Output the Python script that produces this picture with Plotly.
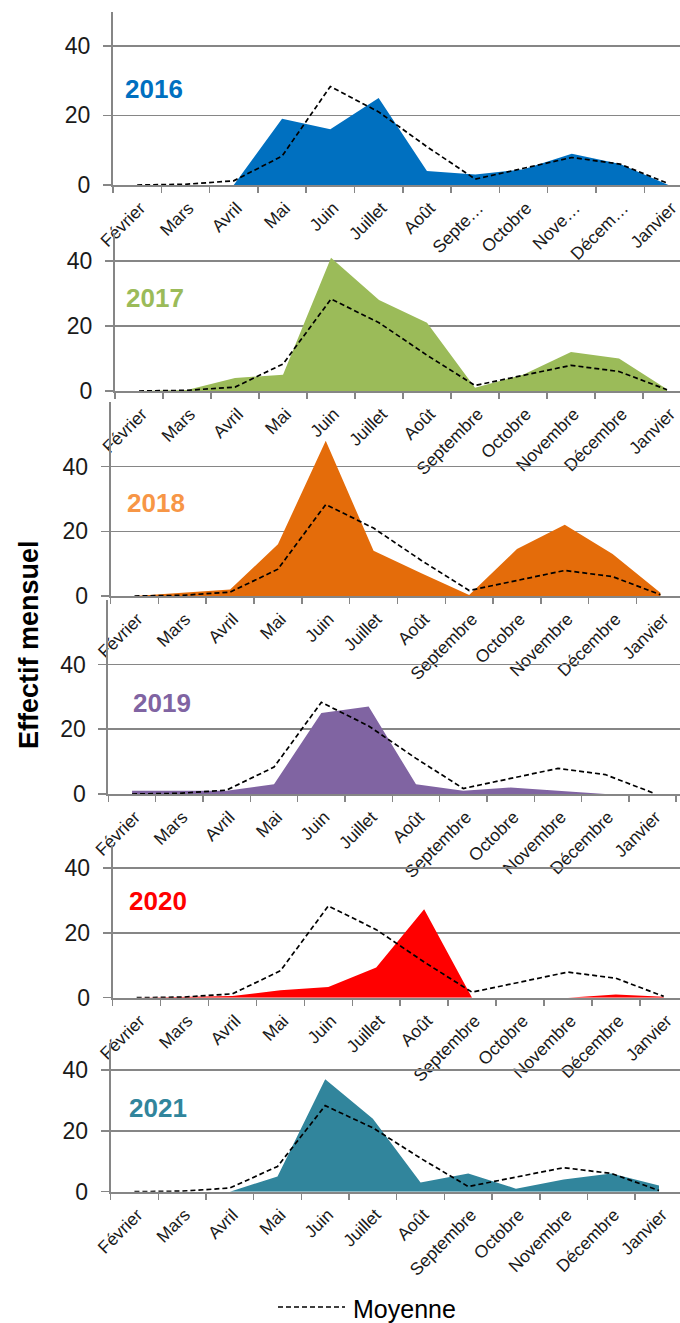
import plotly.graph_objects as go

# ---------------- data ----------------
mois = ["Février", "Mars", "Avril", "Mai", "Juin", "Juillet", "Août",
        "Septembre", "Octobre", "Novembre", "Décembre", "Janvier"]
mois_2016 = ["Février", "Mars", "Avril", "Mai", "Juin", "Juillet", "Août",
             "Septe…", "Octobre", "Nove…", "Décem…", "Janvier"]
annees = ["2016", "2017", "2018", "2019", "2020", "2021"]

moyenne = [0, 0.2, 1.2, 8.3, 28.3, 21, 11, 1.7, 4.8, 7.9, 6, 0.4]

v2016 = [0, 0, 0, 19, 16, 25, 4, 3, 4.5, 9, 6, 0]
v2017 = [0, 0.3, 4, 5, 41, 28, 21, 1, 5, 12, 10, 0.5]
v2018 = [0, 1, 2, 16, 48, 14, 7, 0.3, 14.5, 22, 13, 1]
v2019 = [1, 1, 1, 3, 25, 27, 3, 1, 2, 1, 0, 0]
v2020 = [0, 0.3, 0.5, 2.3, 3.3, 9.3, 27.3, 0, 0, 0, 1, 0.3]
v2021 = [0, 0, 0, 5, 37, 24, 3, 6, 1, 4, 6, 2]

series = [v2016, v2017, v2018, v2019, v2020, v2021]
fill_colors = ["#0070C0", "#9BBB59", "#E46C0A", "#8064A2", "#FF0000", "#31859C"]
label_colors = ["#0070C0", "#9BBB59", "#F79646", "#8064A2", "#FF0000", "#31859C"]

# ---------------- layout geometry (pixels) ----------------
W, H = 680, 1323
# left edge, top, bottom, y max, x range end
panels = [
    (113.0, 12, 185.0, 49.7, 11.24),
    (115.0, 233, 391.0, 48.6, 11.27),
    (110.6, 402, 596.0, 60.0, 11.41),
    (108.4, 600, 794.0, 59.9, 11.58),
    (112.7, 845, 997.7, 47.1, 11.34),
    (110.6, 1043, 1191.7, 48.9, 11.44),
]
year_pos = [(153.5, 89), (155, 297.5), (155.5, 503), (162, 703), (158, 901), (158, 1107.5)]

GRAY = "#868686"
FONT = "Liberation Sans, Arial, sans-serif"

fig = go.Figure()
annotations = []

for i, (vals, fc) in enumerate(zip(series, fill_colors)):
    n = i + 1
    xa = "x" if n == 1 else f"x{n}"
    ya = "y" if n == 1 else f"y{n}"
    fig.add_trace(go.Scatter(
        x=mois, y=vals, xaxis=xa, yaxis=ya, mode="lines",
        line=dict(width=0, color=fc), fill="tozeroy", fillcolor=fc,
        showlegend=False, hoverinfo="skip"))
    fig.add_trace(go.Scatter(
        x=mois, y=moyenne, xaxis=xa, yaxis=ya, mode="lines",
        line=dict(color="black", width=1.7, dash="5px,3px"),
        name="Moyenne", showlegend=False, hoverinfo="skip"))

    L, top, bot, ymax, xend = panels[i]
    xkey = "xaxis" if n == 1 else f"xaxis{n}"
    ykey = "yaxis" if n == 1 else f"yaxis{n}"
    fig.layout[xkey] = dict(
        domain=[L / W, 1.0], anchor=ya, type="category", automargin=False,
        range=[-0.5, xend], showgrid=False, zeroline=False,
        showline=True, linecolor=GRAY, linewidth=2,
        ticks="outside", tickson="boundaries", ticklen=6,
        tickcolor=GRAY, tickwidth=1.5,
        tickmode="array", tickvals=mois,
        ticktext=mois_2016 if n == 1 else mois,
        ticklabelstandoff=4, ticklabelshift=3,
        tickangle=-45, tickfont=dict(family=FONT, size=17.5, color="#1a1a1a"),
    )
    fig.layout[ykey] = dict(
        domain=[(H - bot) / H, (H - top) / H], anchor=xa, automargin=False,
        range=[0, ymax], tickmode="array", tickvals=[0, 20, 40],
        showgrid=True, gridcolor=GRAY, gridwidth=1.6,
        zeroline=False, showline=True, linecolor=GRAY, linewidth=2,
        ticks="outside", ticklen=8, tickcolor=GRAY, tickwidth=1.5,
        ticklabelstandoff=8,
        tickfont=dict(family=FONT, size=23, color="#1a1a1a"),
    )
    yx, yy = year_pos[i]
    annotations.append(dict(
        text=f"<b>{annees[i]}</b>", x=yx / W, y=(H - yy) / H,
        xref="paper", yref="paper", xanchor="center", yanchor="middle",
        showarrow=False, font=dict(family=FONT, size=26, color=label_colors[i])))

# y-axis title
annotations.append(dict(
    text="<b>Effectif mensuel</b>", x=29 / W, y=(H - 645) / H,
    xref="paper", yref="paper", xanchor="center", yanchor="middle",
    textangle=-90, showarrow=False,
    font=dict(family=FONT, size=27, color="black")))

# legend
annotations.append(dict(
    text="Moyenne", x=351 / W, y=(H - 1309) / H,
    xref="paper", yref="paper", xanchor="left", yanchor="middle",
    showarrow=False, font=dict(family=FONT, size=25, color="black")))

fig.update_layout(
    width=W, height=H, margin=dict(l=0, r=0, t=0, b=0, autoexpand=False),
    paper_bgcolor="white", plot_bgcolor="rgba(0,0,0,0)",
    annotations=annotations,
    shapes=[dict(type="line", xref="paper", yref="paper",
                 x0=278 / W, x1=345 / W, y0=(H - 1307) / H, y1=(H - 1307) / H,
                 line=dict(color="black", width=1.7, dash="5px,3px"))],
    showlegend=False,
)

fig.write_html(
    "out.html",
    config={"displayModeBar": False, "staticPlot": True},
    post_script="document.body.style.margin='0';document.body.style.padding='0';"
                "document.body.style.overflow='hidden';",
)
